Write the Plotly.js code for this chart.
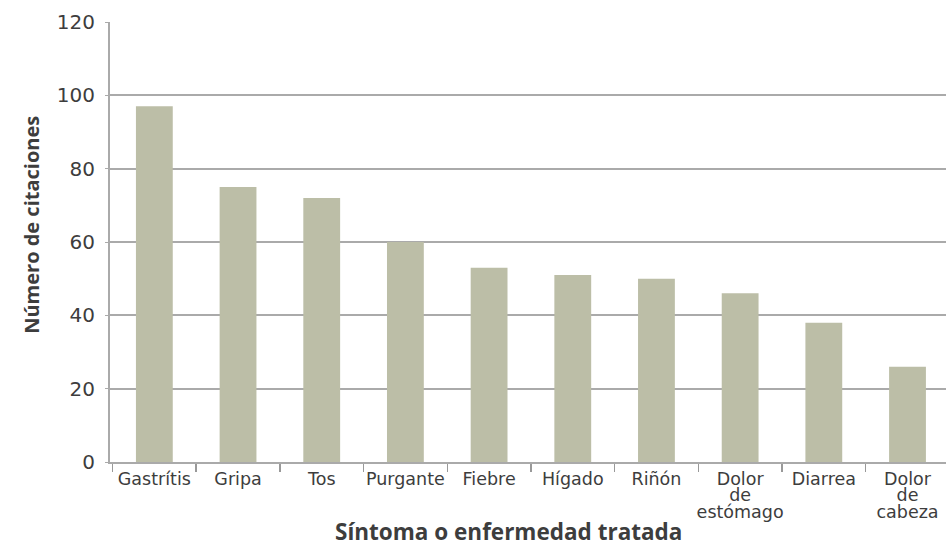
<!DOCTYPE html>
<html>
<head>
<meta charset="utf-8">
<script src="https://cdn.plot.ly/plotly-3.0.1.min.js"></script>
<style>html,body{margin:0;padding:0;background:#fff;}#chart{width:948px;height:547px;}</style>
</head>
<body>
<div id="chart"></div>
<script>
const categories = ["Gastrítis", "Gripa", "Tos", "Purgante", "Fiebre", "Hígado", "Riñón", "Dolor<br>de<br>estómago", "Diarrea", "Dolor<br>de<br>cabeza"];
const citaciones = [97, 75, 72, 60, 53, 51, 50, 46, 38, 26];
const yTicks = [0, 20, 40, 60, 80, 100, 120];
const xTitle = "Síntoma o enfermedad tratada";
const yTitle = "Número de citaciones";

const tickFam = "'DejaVu Sans', sans-serif";
const titleFam = "'Open Sans', 'DejaVu Sans', sans-serif";
const textColor = "#3d3d3d";
const trace = {
  type: "bar",
  x: categories,
  y: citaciones,
  marker: {color: "#bcbea7", line: {width: 0}},
  hoverinfo: "x+y"
};
const layout = {
  width: 948, height: 547,
  margin: {l: 110, r: 2, t: 22, b: 85},
  paper_bgcolor: "#ffffff", plot_bgcolor: "#ffffff",
  showlegend: false,
  bargap: 0.56,
  font: {family: tickFam, color: textColor},
  xaxis: {
    type: "category",
    range: [-0.53, 9.46],
    tickson: "boundaries",
    ticks: "outside", ticklen: 8, tickcolor: "#999999", tickwidth: 1.5,
    showline: true, linecolor: "#aaaaaa", linewidth: 2,
    showgrid: false, zeroline: false,
    tickfont: {family: tickFam, size: 17.5, color: textColor},
    tickangle: 0,
    automargin: false
  },
  yaxis: {
    range: [0, 120],
    tickvals: yTicks,
    ticktext: yTicks.map(String),
    ticks: "outside", ticklen: 3, tickcolor: "#aaaaaa",
    ticklabelstandoff: 6,
    showline: true, linecolor: "#aaaaaa", linewidth: 2,
    showgrid: true, gridcolor: "#aaaaaa", gridwidth: 2,
    zeroline: false,
    tickfont: {family: tickFam, size: 20, color: textColor},
    automargin: false
  },
  annotations: [
    {text: "<b>" + xTitle + "</b>", xref: "paper", yref: "paper", x: 0.477, y: -0.157,
     xanchor: "center", yanchor: "middle", showarrow: false,
     font: {family: titleFam, size: 22.5, color: textColor}},
    {text: "<b>" + yTitle + "</b>", xref: "paper", yref: "paper", x: -0.094, y: 0.54,
     xanchor: "center", yanchor: "middle", showarrow: false, textangle: -90,
     font: {family: titleFam, size: 20, color: textColor}}
  ]
};
Plotly.newPlot("chart", [trace], layout, {displayModeBar: false, staticPlot: true}).then(function (gd) {
  // tighten line spacing of multi-line tick labels
  gd.querySelectorAll(".xtick text tspan.line").forEach(function (t) {
    const dy = parseFloat(t.getAttribute("dy"));
    if (!isNaN(dy)) t.setAttribute("dy", (dy / 1.3 * 0.93) + "em");
  });
});
</script>
</body>
</html>
